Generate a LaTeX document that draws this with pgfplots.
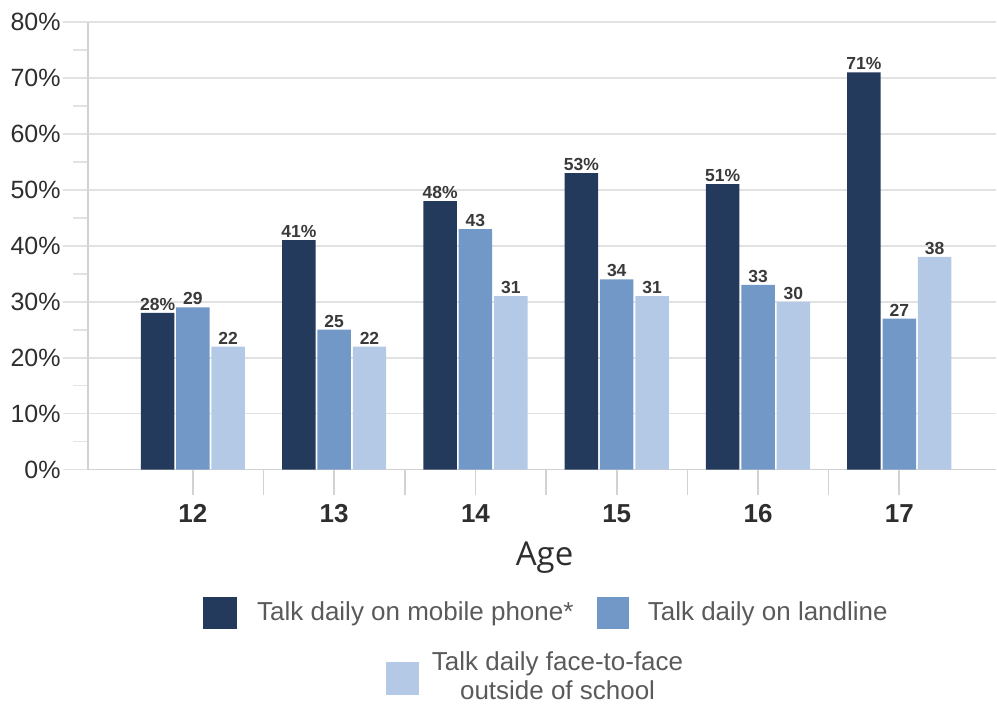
\documentclass[border=0pt]{standalone}
\usepackage{pgfplots}
\pgfplotsset{compat=1.18}
\usepackage{fontspec}
\setmainfont{Liberation Sans}
\newfontfamily\agefont{Open Sans}

\definecolor{mobile}{HTML}{233A5C}
\definecolor{landline}{HTML}{7298C8}
\definecolor{facetoface}{HTML}{B4C9E5}
\definecolor{gridgray}{HTML}{E2E2E2}
\definecolor{axisgray}{HTML}{D2D2D2}
\definecolor{ticktext}{HTML}{2E2E2E}
\definecolor{valtext}{HTML}{3A3A3A}
\definecolor{legtext}{HTML}{5A5A5A}

\begin{document}
\begin{tikzpicture}
% page frame, in pixel-like units (origin top left)
\begin{scope}[shift={(-44pt,235pt)},x=0.5pt,y=-0.5pt]
  \useasboundingbox (0,0) rectangle (997,706);
\end{scope}

\begin{axis}[
  at={(0,0)}, anchor=south west, scale only axis,
  width=454.5pt, height=224pt,
  ybar, bar width=0.237,
  xmin=11.257, xmax=17.686, ymin=0, ymax=80,
  axis x line*=bottom, axis y line*=left,
  axis line style={draw=axisgray, line width=0.8pt},
  tick align=outside,
  major tick length=12.5pt, minor tick length=7.5pt,
  /pgf/number format/assume math mode=true,
  ytick={0,10,...,80},
  yticklabels={0\%,10\%,20\%,30\%,40\%,50\%,60\%,70\%,80\%},
  minor y tick num=1,
  ymajorgrids,
  major grid style={draw=gridgray, line width=0.8pt},
  ytick style={draw=gridgray, line width=0.8pt},
  yticklabel style={font=\fontsize{12.5}{15}\selectfont, text=ticktext, inner sep=1pt},
  xtick={12.5,13.5,14.5,15.5,16.5},
  xticklabels={},
  xtick style={draw=axisgray, line width=0.8pt},
  extra x ticks={12,13,14,15,16,17},
  extra x tick labels={12,13,14,15,16,17},
  extra x tick style={tick style={draw=none}, grid=none,
    tick label style={font=\fontsize{13}{15}\selectfont\bfseries, text=ticktext, yshift=-1.5pt}},
  every node near coord/.append style={font=\fontsize{8.75}{10}\selectfont\bfseries,
    text=valtext, inner sep=1pt, anchor=south},
]
% Talk daily on mobile phone
\addplot[fill=mobile, draw=none, bar shift=-0.25,
  nodes near coords={\pgfmathprintnumber{\pgfplotspointmeta}\%}]
  coordinates {(12,28) (13,41) (14,48) (15,53) (16,51) (17,71)};
% Talk daily on landline
\addplot[fill=landline, draw=none, bar shift=0, nodes near coords]
  coordinates {(12,29) (13,25) (14,43) (15,34) (16,33) (17,27)};
% Talk daily face-to-face outside of school
\addplot[fill=facetoface, draw=none, bar shift=0.25, nodes near coords]
  coordinates {(12,22) (13,22) (14,31) (15,31) (16,30) (17,38)};
\end{axis}

% axis title and legend
\begin{scope}[shift={(-44pt,235pt)},x=0.5pt,y=-0.5pt]
  \node[anchor=base, inner sep=0pt, text=ticktext,
    font=\agefont\fontsize{16.5}{20}\selectfont] at (545,566) {Age};
  \fill[mobile] (203,597) rectangle (237,630);
  \node[anchor=base west, inner sep=0pt, text=legtext,
    font=\fontsize{13}{15}\selectfont] at (257,621) {Talk daily on mobile phone*};
  \fill[landline] (597,597) rectangle (630,630);
  \node[anchor=base west, inner sep=0pt, text=legtext,
    font=\fontsize{13}{15}\selectfont] at (648,621) {Talk daily on landline};
  \fill[facetoface] (386,663) rectangle (419,696);
  \node[anchor=base, inner sep=0pt, text=legtext,
    font=\fontsize{13}{15}\selectfont] at (558,671) {Talk daily face-to-face};
  \node[anchor=base, inner sep=0pt, text=legtext,
    font=\fontsize{13}{15}\selectfont] at (558,700) {outside of school};
\end{scope}
\end{tikzpicture}
\end{document}
